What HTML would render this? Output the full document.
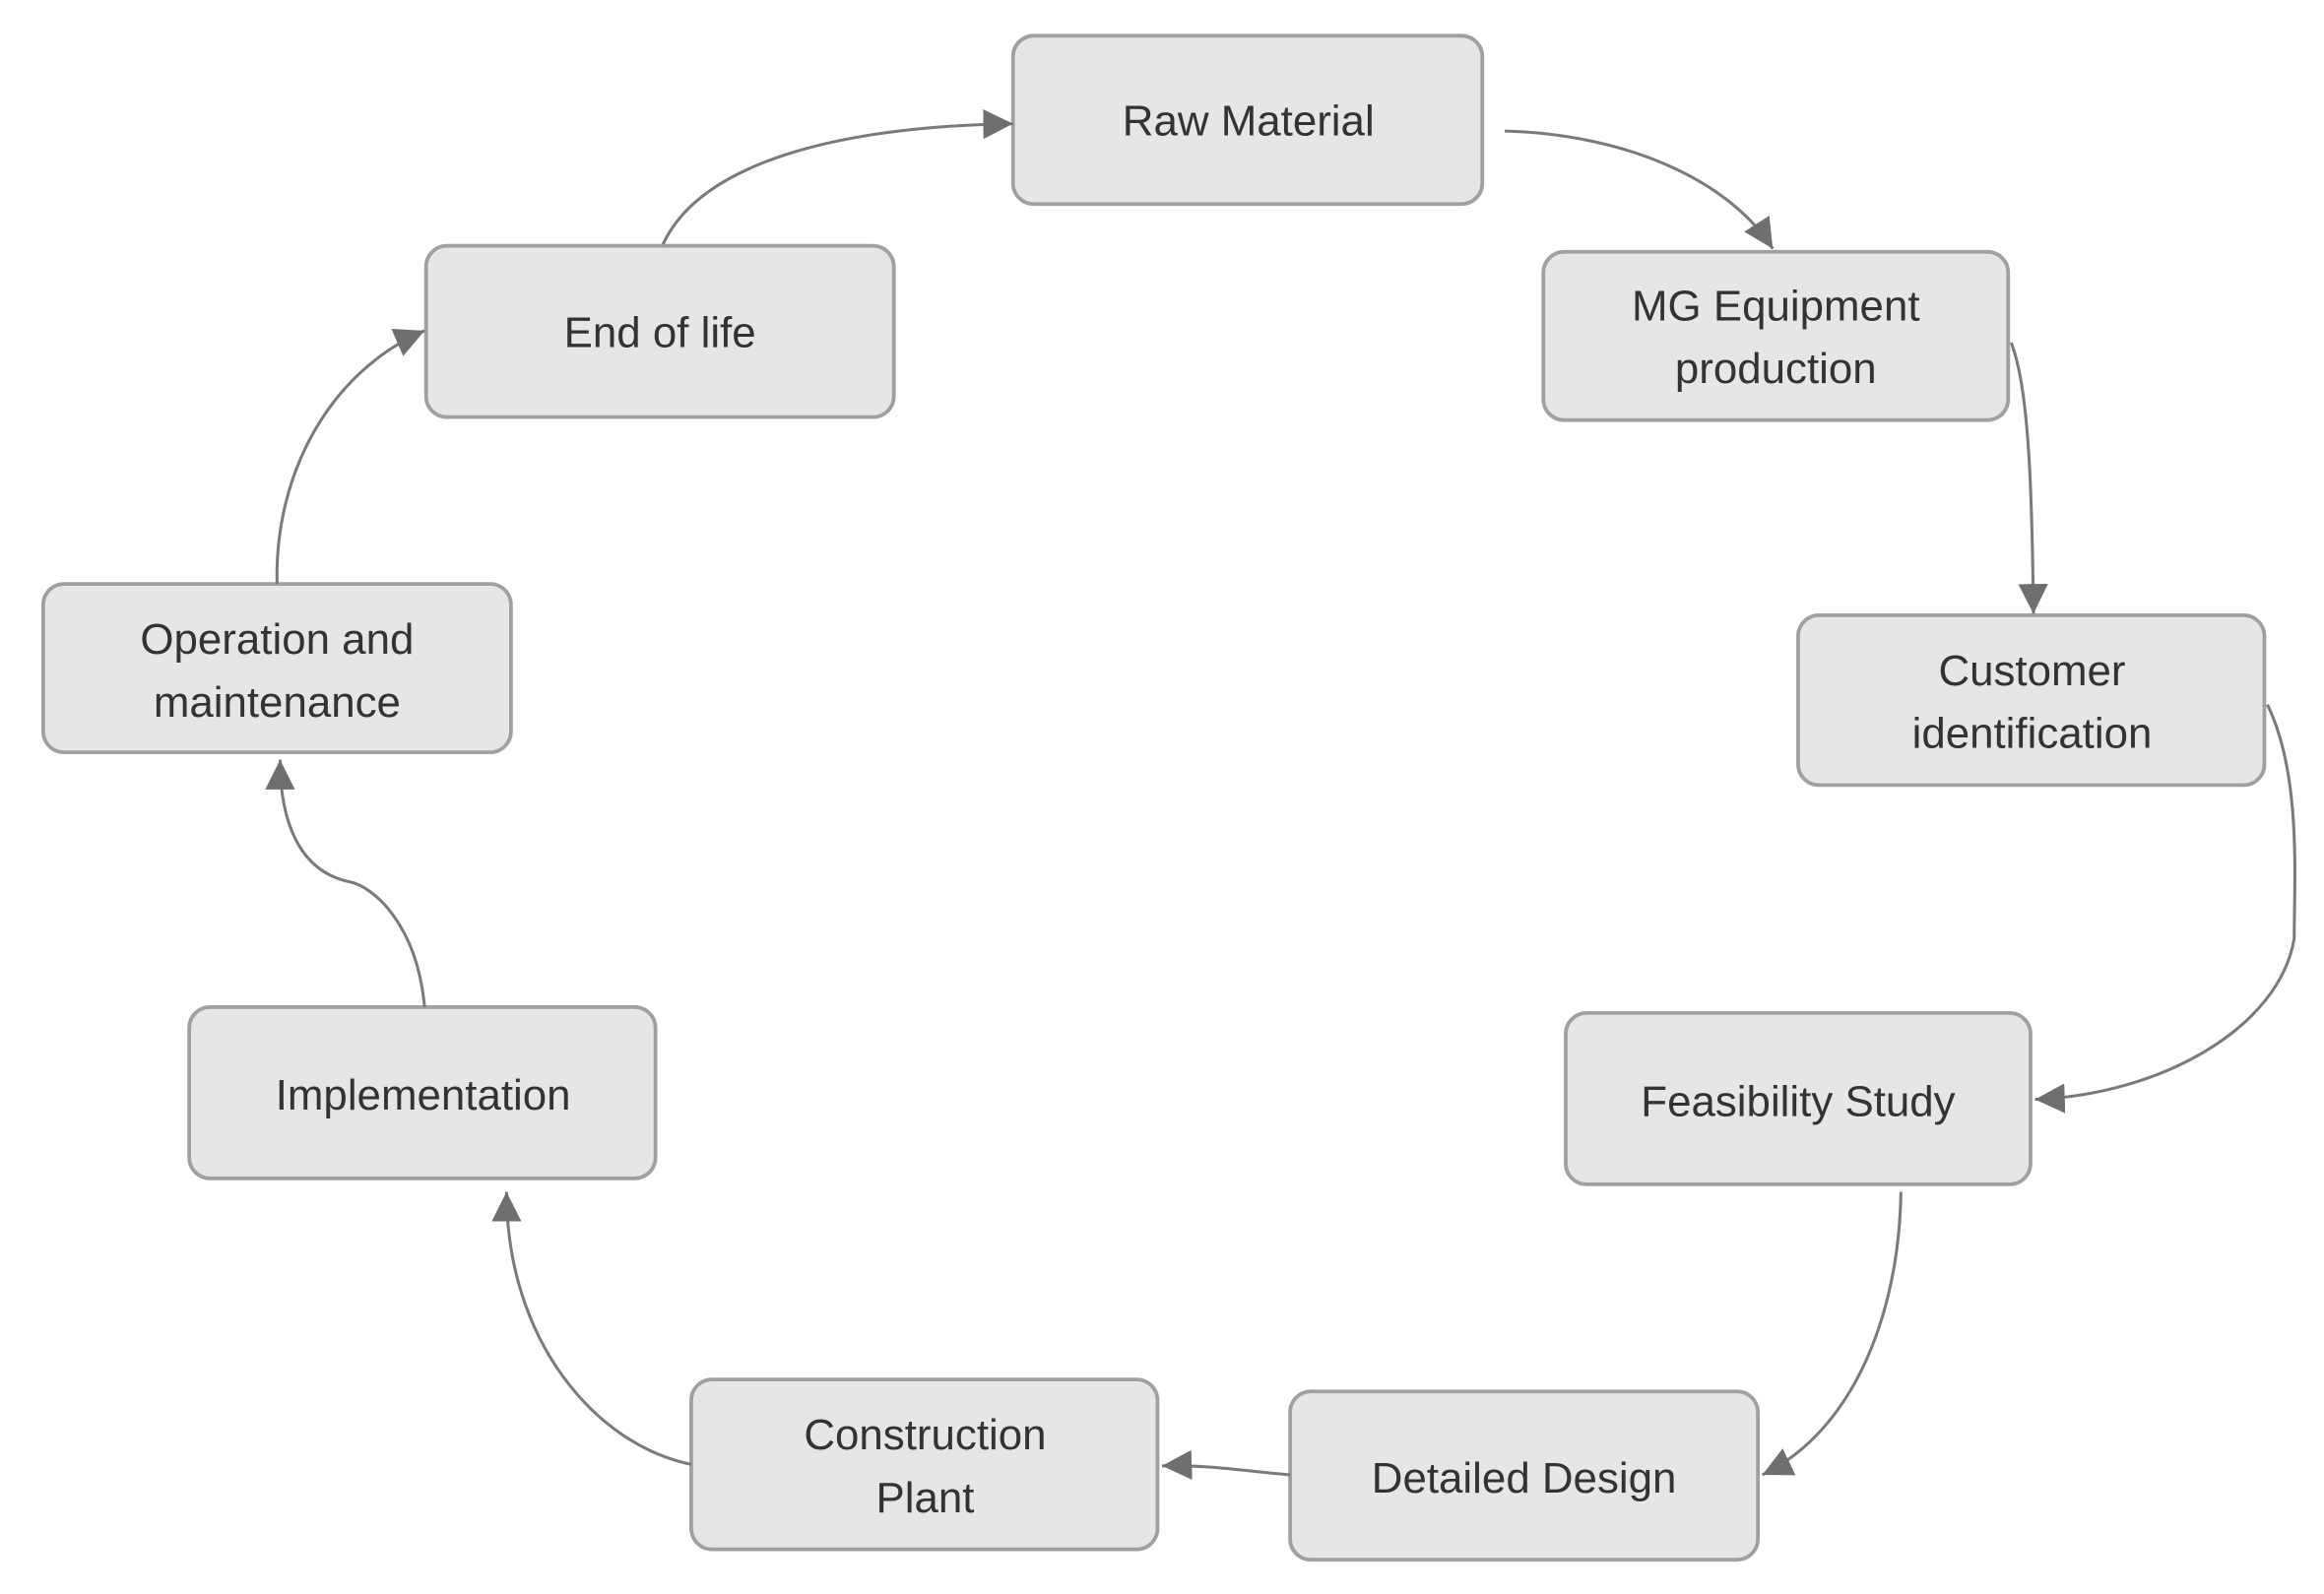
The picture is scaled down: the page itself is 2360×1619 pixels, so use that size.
<!DOCTYPE html>
<html><head><meta charset="utf-8"><style>
html,body{margin:0;padding:0;background:#fff;}
svg{display:block;}
text{font-family:"Liberation Sans",sans-serif;font-size:29px;fill:#333;text-anchor:middle;}
</style></head><body>
<svg width="2360" height="1619" viewBox="0 0 1560 1070" preserveAspectRatio="none" xmlns="http://www.w3.org/2000/svg">
<defs>
<marker id="a" markerWidth="10" markerHeight="10" refX="9" refY="5" orient="auto" markerUnits="userSpaceOnUse" viewBox="0 0 10 10">
<path d="M0,0 L10,5 L0,10 z" fill="#6f6f6f" transform="scale(1)"/>
</marker>
<marker id="b" markerWidth="22" markerHeight="22" refX="20" refY="11" orient="auto" markerUnits="userSpaceOnUse">
<path d="M0,1 L20,11 L0,21 z" fill="#6f6f6f"/>
</marker>
</defs>
<g fill="#e6e6e6" stroke="#a0a0a0" stroke-width="2.5">
<rect x="680" y="24" width="315" height="113" rx="14"/>
<rect x="1036" y="169" width="312" height="113" rx="14"/>
<rect x="1207" y="413" width="313" height="114" rx="14"/>
<rect x="1051" y="680" width="312" height="115" rx="14"/>
<rect x="866" y="934" width="314" height="113" rx="14"/>
<rect x="464" y="926" width="313" height="114" rx="14"/>
<rect x="127" y="676" width="313" height="115" rx="14"/>
<rect x="29" y="392" width="314" height="113" rx="14"/>
<rect x="286" y="165" width="314" height="115" rx="14"/>
</g>
<g fill="none" stroke="#7a7a7a" stroke-width="2" marker-end="url(#b)">
<path d="M445,164 C470,110 560,85 680,83"/>
<path d="M1010,88 C1090,90 1160,120 1190,167"/>
<path d="M1350,230 C1362,260 1364,330 1365,412"/>
<path d="M1522,473 C1545,520 1540,590 1540,630 C1530,690 1450,735 1366,738"/>
<path d="M1276,800 C1275,880 1245,960 1183,990"/>
<path d="M866,990 C840,988 810,983 780,984"/>
<path d="M464,983 C400,970 340,900 340,800"/>
<path d="M285,676 C280,620 250,595 235,592 C200,585 188,550 188,510"/>
<path d="M186,392 C184,320 220,250 285,222"/>
</g>
<text x="838" y="91">Raw Material</text>
<text x="1192" y="215">MG Equipment</text>
<text x="1192" y="257">production</text>
<text x="1364" y="460">Customer</text>
<text x="1364" y="502">identification</text>
<text x="1207" y="749">Feasibility Study</text>
<text x="1023" y="1002">Detailed Design</text>
<text x="621" y="973">Construction</text>
<text x="621" y="1015">Plant</text>
<text x="284" y="745">Implementation</text>
<text x="186" y="439">Operation and</text>
<text x="186" y="481">maintenance</text>
<text x="443" y="233">End of life</text>
</svg>
</body></html>
